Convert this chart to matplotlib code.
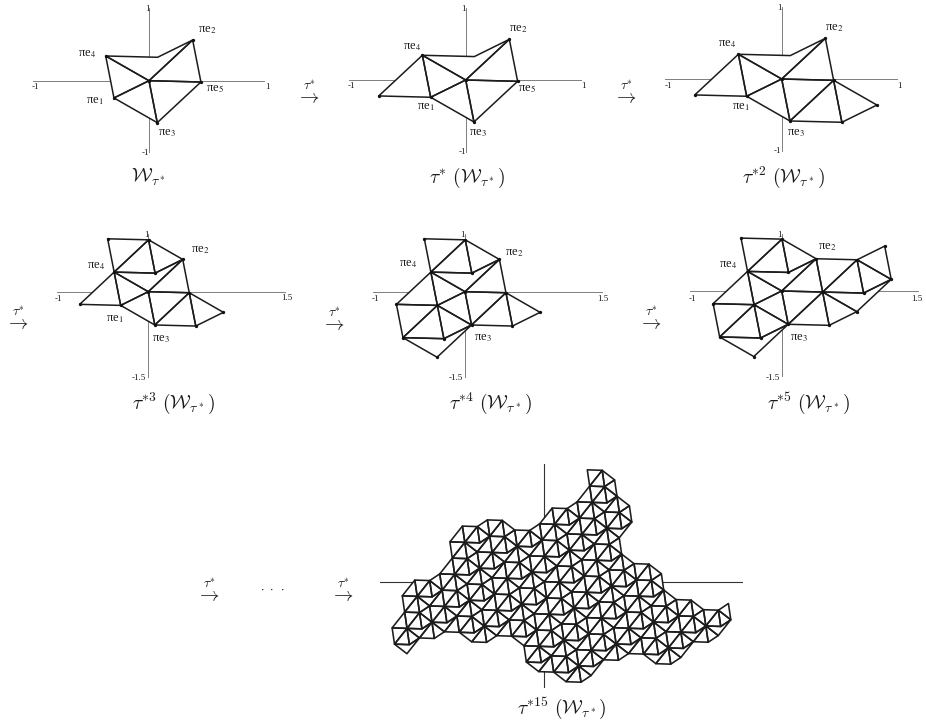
"""Growth of the dual tiling under tau*: five small stages and the 15th one."""
import numpy as np
import matplotlib
matplotlib.use("Agg")
import matplotlib.pyplot as plt

FIG_W, FIG_H = 926, 721

# Projected basis vectors, in axis units. Tile anchors are integer multiples of them.
E2 = np.array([0.375, 0.561])
E3 = np.array([0.071, -0.579])
E4 = np.array([-0.372, 0.341])

# Tile outlines as integer offsets (e2, e3, e4) from the tile anchor.
TILE_SHAPES = {
    "a": [(0, 0, 0), (0, 1, 0), (0, 1, 1)],
    "b": [(0, 0, 0), (0, 0, 1), (0, 1, 1)],
    "c": [(0, 0, 0), (0, 1, 0), (1, 1, 0)],
    "d": [(0, 0, 0), (1, 0, 0), (1, 1, 0)],
    "e": [(0, 0, 0), (0, 0, 1), (1, 1, 1), (1, 0, 0)],
}
NO_DOT = (1, 1, 1)  # the inner corner of the "e" tile carries no dot

# Tiles that each small stage adds to the one before it.
STAGE_0 = [("a", (0, 0, 0)), ("b", (0, 0, 0)), ("c", (0, 0, 0)), ("d", (0, 0, 0)), ("e", (0, 0, 0))]
STAGE_1 = [("d", (-1, 0, 1))]
STAGE_2 = [("b", (1, 1, -1)), ("d", (0, 1, 0))]
STAGE_3 = [("b", (1, 0, 0)), ("c", (0, -1, 1)), ("d", (0, 0, 1))]
STAGE_4 = [("b", (0, 1, 0)), ("c", (-1, 0, 1)), ("d", (-1, 1, 1)), ("e", (-1, 1, 0))]
STAGE_5 = [("a", (2, 0, -1)), ("b", (2, 1, -1)), ("c", (1, 0, 0)), ("d", (1, 1, 0)), ("e", (1, 1, -1))]

# Anchors of the big tiling, per tile type.
BIG_A = """-5,-1,4 -4,-2,4 -3,-1,3 -3,0,2 -2,-2,3 -2,-1,2 -1,-3,3 -1,0,1 -1,1,0 0,-2,2 0,-1,1 0,0,0 0,2,-1 0,3,-2
1,-2,1 1,1,-1 1,2,-2 2,-1,0 2,0,-1 2,3,-3 3,-2,0 3,1,-2 3,2,-3 4,-1,-1 4,0,-2 4,1,-3 4,3,-4 4,4,-5 5,-2,-1
5,-1,-2 5,2,-4 5,3,-5 6,4,-6 7,4,-7"""
BIG_B = """-6,0,4 -5,-1,4 -5,0,3 -5,0,4 -4,-1,4 -4,0,3 -3,-1,3 -3,0,2 -3,0,3 -3,1,1 -3,1,2 -2,-2,3 -2,-1,2 -2,-1,3
-2,0,2 -2,1,1 -1,-2,3 -1,-1,2 -1,0,1 -1,1,0 -1,1,1 -1,2,0 -1,3,-1 0,-2,2 0,-1,1 0,-1,2 0,0,0 0,0,1 0,1,0
0,2,-1 0,3,-2 0,3,-1 0,4,-3 0,4,-2 1,-1,1 1,0,0 1,1,-1 1,2,-2 1,2,-1 1,3,-2 1,4,-3 2,-1,0 2,0,-1 2,0,0
2,1,-1 2,2,-2 2,3,-3 2,4,-4 2,4,-3 3,-1,0 3,0,-1 3,1,-2 3,2,-3 3,2,-2 3,3,-3 3,4,-4 4,-1,-1 4,0,-2 4,0,-1
4,1,-3 4,1,-2 4,2,-3 4,3,-4 4,4,-5 4,4,-4 4,5,-6 4,5,-5 5,-2,-1 5,-1,-2 5,-1,-1 5,0,-2 5,2,-4 5,3,-5 5,3,-4
5,4,-5 5,5,-6 6,4,-6 6,5,-7 6,5,-6 7,5,-7"""
BIG_C = """-7,-1,5 -6,-2,5 -6,-1,5 -5,-2,5 -5,-1,4 -4,-2,4 -4,-1,4 -4,0,3 -3,-3,4 -3,-2,4 -3,-1,3 -3,0,2 -2,-3,4
-2,-2,3 -2,-1,2 -2,0,2 -2,1,1 -2,2,0 -1,-3,3 -1,-2,3 -1,-1,2 -1,0,1 -1,1,0 -1,2,0 -1,3,-1 0,-2,2 0,-1,1
0,0,0 0,1,0 0,2,-1 0,3,-2 1,-2,1 1,-1,1 1,0,0 1,1,-1 1,2,-2 1,3,-2 2,-2,1 2,-1,0 2,0,-1 2,1,-1 2,2,-2 2,3,-3
3,-2,0 3,-1,0 3,0,-1 3,1,-2 3,2,-3 3,3,-3 3,4,-4 4,-3,0 4,-2,0 4,-1,-1 4,1,-3 4,2,-3 4,3,-4 4,4,-5 5,3,-5
5,4,-5 6,4,-6"""
BIG_D = """-7,-1,5 -7,0,5 -6,-2,5 -6,-1,5 -6,0,4 -6,0,5 -5,-1,4 -5,-1,5 -5,0,3 -5,0,4 -4,-2,4 -4,-1,4 -4,0,3 -4,0,4
-4,1,2 -4,1,3 -3,-3,4 -3,-2,4 -3,-1,3 -3,-1,4 -3,0,2 -3,0,3 -3,1,1 -3,1,2 -2,-2,3 -2,-2,4 -2,-1,2 -2,-1,3
-2,0,2 -2,1,1 -2,1,2 -2,2,0 -2,2,1 -2,3,-1 -2,3,0 -1,-2,3 -1,-1,2 -1,-1,3 -1,0,1 -1,0,2 -1,1,0 -1,1,1 -1,2,0
-1,3,-1 -1,3,0 -1,4,-2 -1,4,-1 0,-1,1 0,-1,2 0,0,0 0,0,1 0,1,0 0,2,-1 0,2,0 0,3,-2 0,3,-1 0,4,-2 1,-2,1
1,-1,1 1,0,0 1,0,1 1,1,-1 1,1,0 1,2,-2 1,2,-1 1,3,-2 1,4,-3 1,4,-2 2,-1,0 2,-1,1 2,0,-1 2,0,0 2,1,-1 2,2,-2
2,2,-1 2,3,-3 2,3,-2 2,4,-4 2,4,-3 3,-2,0 3,-1,0 3,0,-1 3,0,0 3,1,-2 3,1,-1 3,2,-3 3,2,-2 3,3,-3 3,4,-4
3,4,-3 3,5,-5 3,5,-4 4,-2,0 4,-1,-1 4,-1,0 4,0,-1 4,2,-3 4,3,-4 4,3,-3 4,4,-5 4,4,-4 4,5,-5 5,4,-5 5,5,-6
5,5,-5 6,5,-6"""
BIG_E = """-7,0,4 -6,0,4 -5,-1,4 -5,0,3 -4,0,3 -4,1,2 -3,-1,3 -3,0,2 -3,1,1 -2,-2,3 -2,-1,2 -2,1,1 -2,2,0 -2,3,-1
-1,-1,2 -1,0,1 -1,1,0 -1,3,-1 -1,4,-2 0,-1,1 0,0,0 0,2,-1 0,3,-2 0,4,-3 1,0,0 1,1,-1 1,2,-2 1,4,-3 2,-1,0
2,0,-1 2,2,-2 2,3,-3 2,4,-4 3,0,-1 3,1,-2 3,2,-3 3,4,-4 3,5,-5 4,-1,-1 4,0,-2 4,3,-4 4,4,-5 4,5,-6 5,5,-6
6,5,-7"""

# Axis ranges of the three panel sizes.
TOP_RANGE = (-1, 1, -1, 1)
MID_RANGE = (-1, 1.5, -1.5, 1)
BIG_RANGE = (-4.92, 5.95, -3.78, 4.19)

CAPTIONS = [
    r"$\mathcal{W}_{\tau^*}$",
    r"$\tau^{*}\ (\mathcal{W}_{\tau^*})$",
    r"$\tau^{*2}\ (\mathcal{W}_{\tau^*})$",
    r"$\tau^{*3}\ (\mathcal{W}_{\tau^*})$",
    r"$\tau^{*4}\ (\mathcal{W}_{\tau^*})$",
    r"$\tau^{*5}\ (\mathcal{W}_{\tau^*})$",
    r"$\tau^{*15}\ (\mathcal{W}_{\tau^*})$",
]


def parse_anchors(kind, text):
    return [(kind, tuple(int(v) for v in item.split(","))) for item in text.split()]


def project(v):
    return v[0] * E2 + v[1] * E3 + v[2] * E4


def add_panel(fig, origin, scale, ranges, axis_color, axis_lw):
    """Axes placed so that (0, 0) falls on the given pixel with the given px/unit."""
    x0, x1, y0, y1 = ranges
    left = (origin[0] + x0 * scale[0]) / FIG_W
    width = (x1 - x0) * scale[0] / FIG_W
    bottom = 1 - (origin[1] - y0 * scale[1]) / FIG_H
    height = (y1 - y0) * scale[1] / FIG_H
    ax = fig.add_axes([left, bottom, width, height])
    ax.set_xlim(x0, x1)
    ax.set_ylim(y0, y1)
    ax.axis("off")
    ax.axhline(0, color=axis_color, lw=axis_lw, zorder=1)
    ax.axvline(0, color=axis_color, lw=axis_lw, zorder=1)
    return ax


def draw_tiles(ax, tiles, lw, dot_size):
    corners = set()
    for kind, anchor in tiles:
        verts = [tuple(int(c) for c in np.add(anchor, off)) for off in TILE_SHAPES[kind]]
        corners.update(v for v, off in zip(verts, TILE_SHAPES[kind]) if off != NO_DOT)
        pts = np.array([project(v) for v in verts])
        # white first, so the axes do not show through the tiles
        ax.fill(pts[:, 0], pts[:, 1], fc="white", ec="none", clip_on=False, zorder=2)
        ax.fill(pts[:, 0], pts[:, 1], fc="none", ec="#1c1c1c", lw=lw, joinstyle="round",
                clip_on=False, zorder=3)
    if dot_size:
        pts = np.array([project(v) for v in corners])
        ax.plot(pts[:, 0], pts[:, 1], "o", ms=dot_size, color="#111111", mew=0, clip_on=False, zorder=4)


def label(ax, x, y, s, size, **kw):
    ax.text(x, y, s, fontsize=size, ha="center", va="center", color="#1a1a1a", **kw)


fig = plt.figure(figsize=(FIG_W / 100, FIG_H / 100), dpi=100)

stages = [STAGE_0, STAGE_1, STAGE_2, STAGE_3, STAGE_4, STAGE_5]
origins = [(149, 80.7), (465.7, 80), (781.7, 79), (148.3, 291.7), (465, 291.7), (781.7, 291)]
scales = [(116.4, 72.5)] * 3 + [(91.8, 57.5)] * 3
ranges = [TOP_RANGE] * 3 + [MID_RANGE] * 3

tiles = []
for stage, origin, scale, rng in zip(stages, origins, scales, ranges):
    tiles = tiles + stage
    ax = add_panel(fig, origin, scale, rng, "#6a6a6a", 0.6)
    draw_tiles(ax, tiles, 1.1, 2.4)

big_tiles = (parse_anchors("a", BIG_A) + parse_anchors("b", BIG_B) + parse_anchors("c", BIG_C)
             + parse_anchors("d", BIG_D) + parse_anchors("e", BIG_E))
ax = add_panel(fig, (544.3, 581.7), (33.4, 28.1), BIG_RANGE, "#333333", 0.8)
draw_tiles(ax, big_tiles, 1.15, 0)

# Overlay in pixel coordinates for the words and arrows.
txt = fig.add_axes([0, 0, 1, 1], facecolor="none")
txt.set_xlim(0, FIG_W)
txt.set_ylim(FIG_H, 0)
txt.axis("off")

pi_labels = [
    (207, 30, "2"), (87, 54, "4"), (95, 101, "1"), (215, 89, "5"), (167, 133, "3"),
    (518, 29, "2"), (412, 47, "4"), (426, 107, "1"), (527, 89, "5"), (478, 133, "3"),
    (834, 28, "2"), (727, 44, "4"), (741, 107, "1"), (796, 133, "3"),
    (200, 250, "2"), (96, 266, "4"), (115, 319, "1"), (161, 339, "3"),
    (514, 253, "2"), (408, 264, "4"), (483, 338, "3"),
    (827, 247, "2"), (728, 265, "4"), (799, 338, "3"),
]
for x, y, i in pi_labels:
    label(txt, x, y, "\u03c0e$_{%s}$" % i, 9, family="Liberation Serif", math_fontfamily="stix")

tick_labels = [
    (147, 9, "1"), (35, 87, "-1"), (267, 87, "1"), (145, 153, "-1"),
    (463, 9, "1"), (351, 86, "-1"), (583, 86, "1"), (462, 152, "-1"),
    (779, 8, "1"), (668, 86, "-1"), (899, 86, "1"), (777, 151, "-1"),
    (146, 235, "1"), (58, 299, "-1"), (287, 298, "1.5"), (139, 378, "-1.5"),
    (462, 235, "1"), (375, 299, "-1"), (603, 299, "1.5"), (456, 378, "-1.5"),
    (779, 235, "1"), (692, 299, "-1"), (917, 299, "1.5"), (773, 378, "-1.5"),
]
for x, y, s in tick_labels:
    label(txt, x, y, s, 6.5, family="Liberation Serif")

caption_xy = [(148, 177), (467, 178), (783, 177), (173, 403), (490, 403), (808, 403), (562, 708)]
for (x, y), s in zip(caption_xy, CAPTIONS):
    label(txt, x, y, s, 14, math_fontfamily="cm")

arrow_xy = [(308, 94), (625, 94), (17, 320), (333, 321), (650, 320), (208, 592), (342, 592)]
for x, y in arrow_xy:
    label(txt, x, y, r"$\overset{\tau^{*}}{\rightarrow}$", 14, math_fontfamily="cm")
label(txt, 273, 588, r"$\cdot\ \cdot\ \cdot$", 9, math_fontfamily="cm")

fig.savefig("out.png", dpi=100)
